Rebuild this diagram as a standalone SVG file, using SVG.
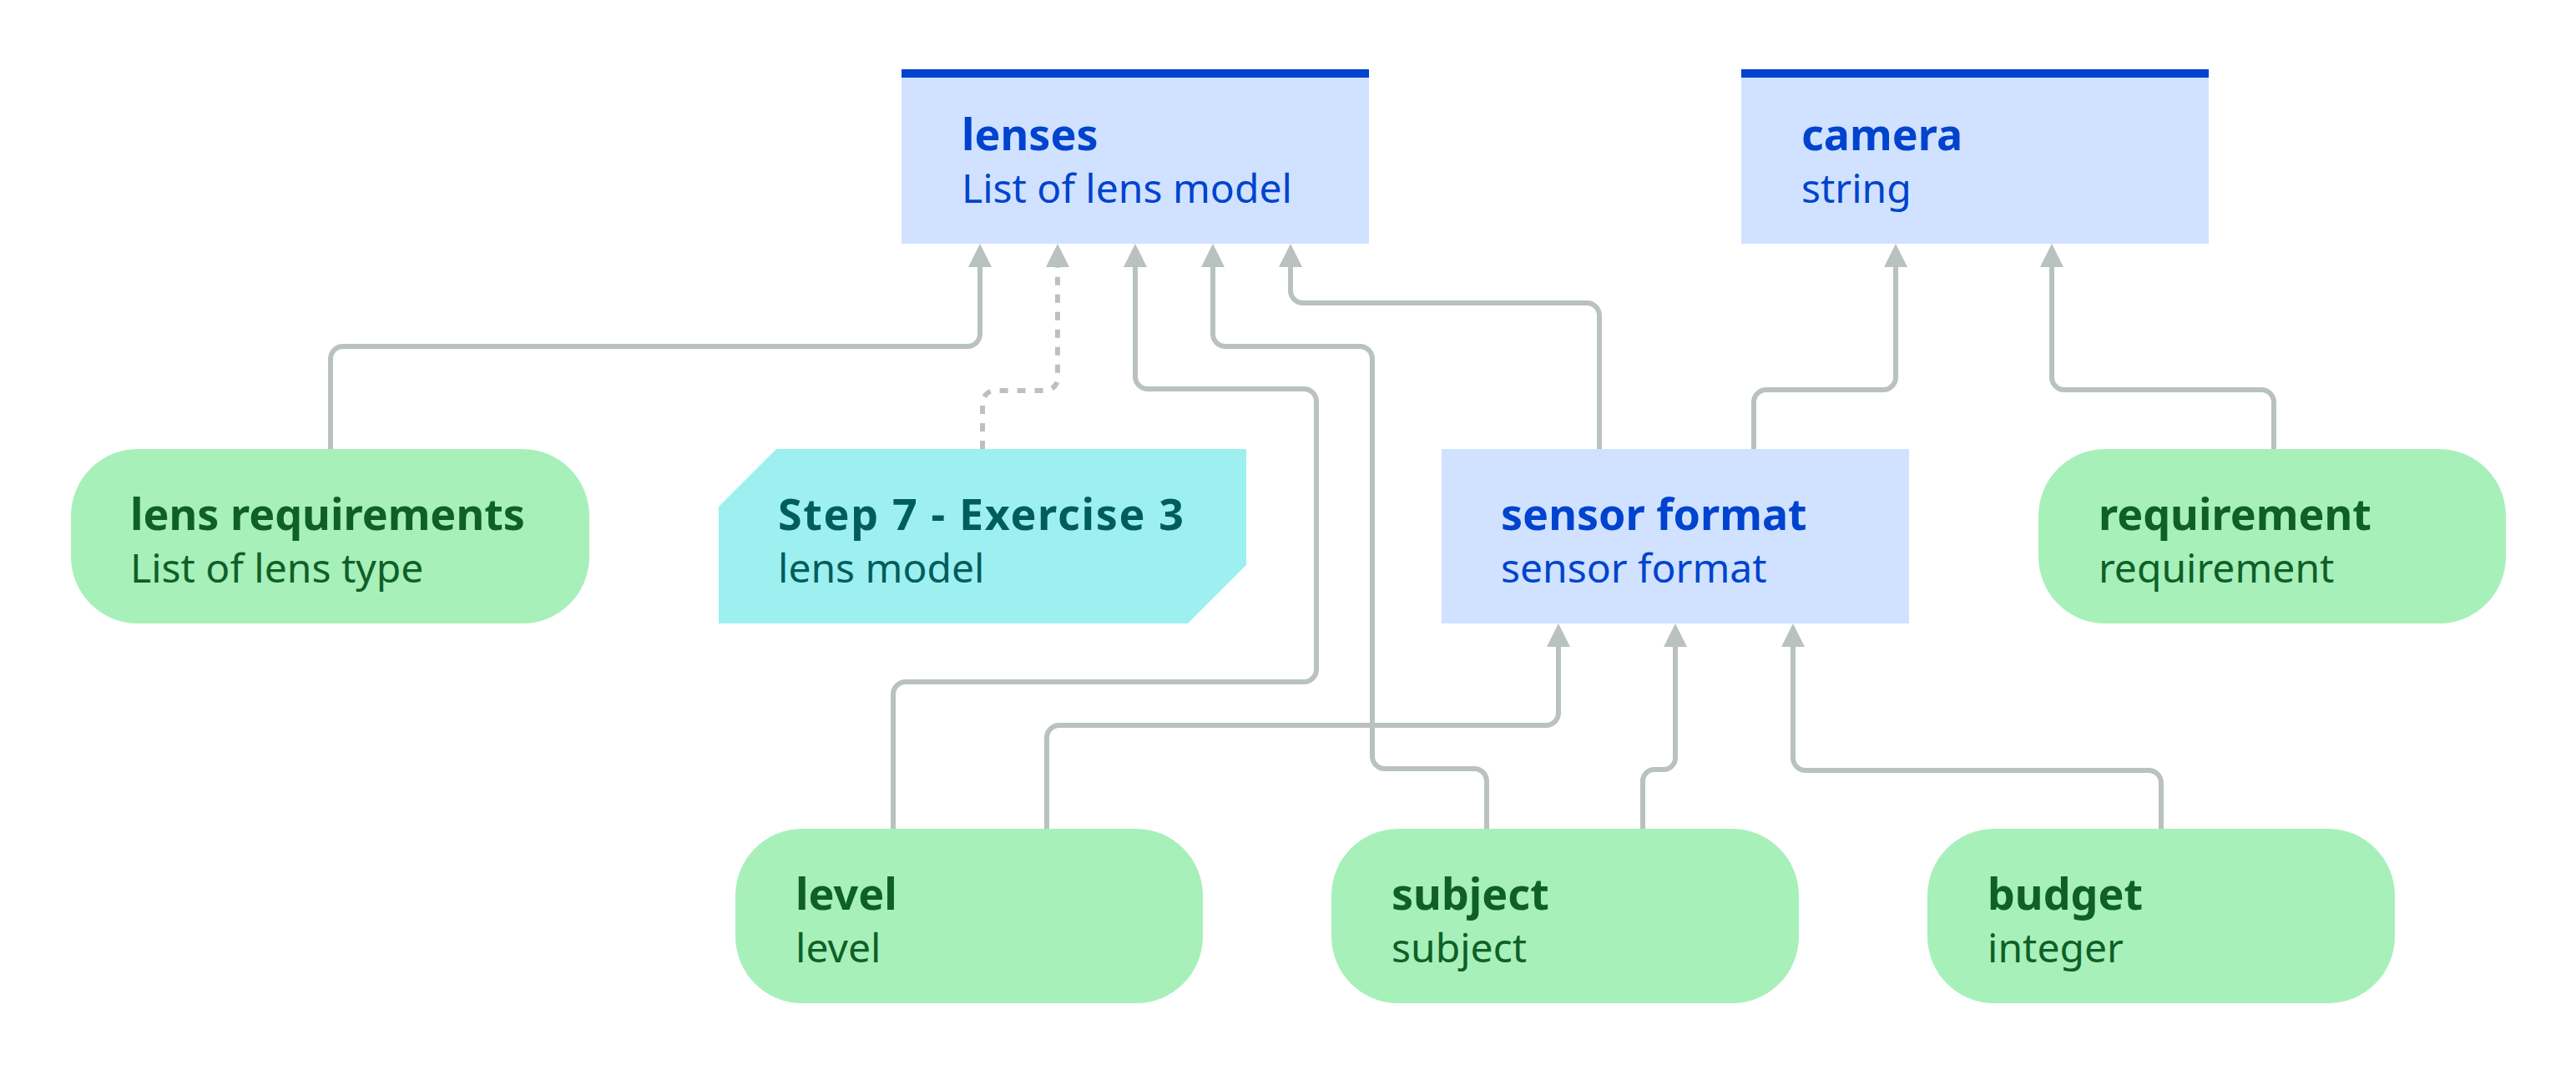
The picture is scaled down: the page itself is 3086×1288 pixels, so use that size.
<svg xmlns="http://www.w3.org/2000/svg" width="3086" height="1288" viewBox="0 0 3086 1288">
<style>
.blue{fill:#d0e2ff}
.bar{fill:#0043ce}
.green{fill:#a7f0ba}
.cyan{fill:#9ef0f0}
text{font-family:"Noto Sans","Open Sans",sans-serif}
.t{font-size:52px;font-weight:700}
.s{font-size:48px;font-weight:400}
.tb{fill:#0043ce}
.tg{fill:#0e6027}
.tc{fill:#005d5d}
.c{fill:none;stroke:#b9c1c1;stroke-width:6;marker-end:url(#arr)}
.d{stroke-dasharray:10 11}
</style>
<defs>
<marker id="arr" markerUnits="userSpaceOnUse" viewBox="0 0 28 28" markerWidth="28" markerHeight="28" refX="0" refY="14" orient="auto">
<path d="M0,0 L28,14 L0,28 Z" fill="#b9c1c1"/>
</marker>
</defs>
<rect width="3086" height="1288" fill="#ffffff"/>
<g id="connectors">
<path class="c" d="M396 538 V430 A15 15 0 0 1 411 415 H1159 A15 15 0 0 0 1174 400 V320"/>
<path class="c d" d="M1177 538 V483 A15 15 0 0 1 1192 468 H1252 A15 15 0 0 0 1267 453 V320"/>
<path class="c" d="M1070 993 V832 A15 15 0 0 1 1085 817 H1562 A15 15 0 0 0 1577 802 V481 A15 15 0 0 0 1562 466 H1375 A15 15 0 0 1 1360 451 V320"/>
<path class="c" d="M1781 993 V936 A15 15 0 0 0 1766 921 H1659 A15 15 0 0 1 1644 906 V430 A15 15 0 0 0 1629 415 H1468 A15 15 0 0 1 1453 400 V320"/>
<path class="c" d="M1916 538 V378 A15 15 0 0 0 1901 363 H1561 A15 15 0 0 1 1546 348 V320"/>
<path class="c" d="M2101 538 V482 A15 15 0 0 1 2116 467 H2256 A15 15 0 0 0 2271 452 V320"/>
<path class="c" d="M2724 538 V482 A15 15 0 0 0 2709 467 H2473 A15 15 0 0 1 2458 452 V320"/>
<path class="c" d="M1254 993 V884 A15 15 0 0 1 1269 869 H1852 A15 15 0 0 0 1867 854 V775"/>
<path class="c" d="M1968 993 V936 A14 14 0 0 1 1982 922 H1993 A14 14 0 0 0 2007 908 V775"/>
<path class="c" d="M2589 993 V938 A15 15 0 0 0 2574 923 H2163 A15 15 0 0 1 2148 908 V775"/>
</g>
<g id="lenses">
<rect class="blue" x="1080" y="83" width="560" height="209"/>
<rect class="bar" x="1080" y="83" width="560" height="10"/>
<text class="t tb" x="1152" y="180">lenses</text>
<text class="s tb" x="1152" y="243">List of lens model</text>
</g>
<g id="camera">
<rect class="blue" x="2086" y="83" width="560" height="209"/>
<rect class="bar" x="2086" y="83" width="560" height="10"/>
<text class="t tb" x="2158" y="180">camera</text>
<text class="s tb" x="2158" y="243">string</text>
</g>
<g id="lens-requirements">
<rect class="green" x="85" y="538" width="621" height="209" rx="80" ry="80"/>
<text class="t tg" x="156" y="635">lens requirements</text>
<text class="s tg" x="156" y="698">List of lens type</text>
</g>
<g id="step7">
<path class="cyan" d="M930 538 H1493 V677 L1423 747 H861 V607 Z"/>
<text class="t tc" x="932" y="635" textLength="486" lengthAdjust="spacing">Step 7 - Exercise 3</text>
<text class="s tc" x="932" y="698">lens model</text>
</g>
<g id="sensor-format">
<rect class="blue" x="1727" y="538" width="560" height="209"/>
<text class="t tb" x="1798" y="635">sensor format</text>
<text class="s tb" x="1798" y="698">sensor format</text>
</g>
<g id="requirement">
<rect class="green" x="2442" y="538" width="560" height="209" rx="80" ry="80"/>
<text class="t tg" x="2514" y="635">requirement</text>
<text class="s tg" x="2514" y="698">requirement</text>
</g>
<g id="level">
<rect class="green" x="881" y="993" width="560" height="209" rx="80" ry="80"/>
<text class="t tg" x="953" y="1090">level</text>
<text class="s tg" x="953" y="1153">level</text>
</g>
<g id="subject">
<rect class="green" x="1595" y="993" width="560" height="209" rx="80" ry="80"/>
<text class="t tg" x="1667" y="1090">subject</text>
<text class="s tg" x="1667" y="1153">subject</text>
</g>
<g id="budget">
<rect class="green" x="2309" y="993" width="560" height="209" rx="80" ry="80"/>
<text class="t tg" x="2381" y="1090">budget</text>
<text class="s tg" x="2381" y="1153">integer</text>
</g>
</svg>
